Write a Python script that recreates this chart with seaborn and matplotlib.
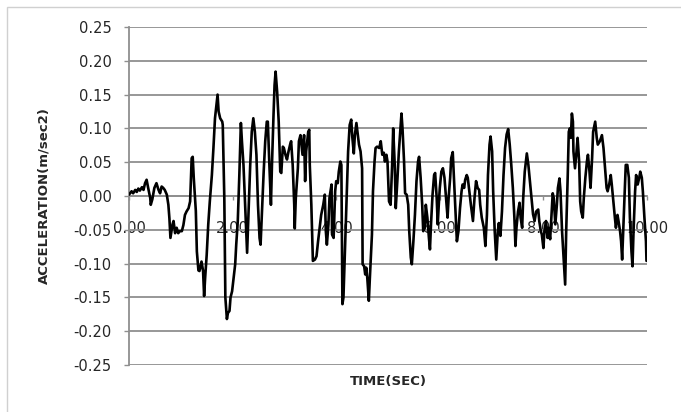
import numpy as np
import seaborn as sns
import matplotlib.pyplot as plt
from matplotlib.patches import Rectangle
from matplotlib.ticker import FormatStrFormatter

sns.set_style("white")
plt.rcParams['font.family'] = ['DejaVu Sans']
plt.rcParams['axes.unicode_minus'] = False

# values
time_sec = [
    0.00, 0.05, 0.08, 0.12, 0.15, 0.18, 0.21, 0.25, 0.28, 0.31, 0.34, 0.37, 0.41, 0.42, 0.45, 0.49,
    0.53, 0.57, 0.60, 0.63, 0.66, 0.69, 0.73, 0.76, 0.78, 0.80, 0.84, 0.86, 0.89, 0.92, 0.95, 0.98,
    1.02, 1.05, 1.08, 1.11, 1.15, 1.18, 1.21, 1.23, 1.25, 1.29, 1.31, 1.34, 1.36, 1.40, 1.43, 1.45,
    1.47, 1.50, 1.53, 1.56, 1.60, 1.63, 1.66, 1.71, 1.73, 1.76, 1.80, 1.81, 1.84, 1.86, 1.89, 1.91,
    1.94, 1.96, 1.99, 2.02, 2.05, 2.07, 2.10, 2.13, 2.16, 2.18, 2.21, 2.25, 2.28, 2.31, 2.34, 2.37,
    2.40, 2.43, 2.46, 2.49, 2.52, 2.54, 2.57, 2.60, 2.63, 2.66, 2.68, 2.71, 2.74, 2.76, 2.79, 2.81,
    2.83, 2.86, 2.89, 2.92, 2.94, 2.97, 2.99, 3.02, 3.05, 3.08, 3.11, 3.13, 3.16, 3.19, 3.20, 3.22,
    3.26, 3.28, 3.31, 3.35, 3.38, 3.40, 3.42, 3.46, 3.48, 3.49, 3.52, 3.55, 3.59, 3.62, 3.65, 3.68,
    3.71, 3.75, 3.78, 3.80, 3.82, 3.85, 3.87, 3.91, 3.92, 3.95, 3.98, 4.00, 4.03, 4.05, 4.08, 4.10,
    4.12, 4.14, 4.16, 4.20, 4.23, 4.26, 4.29, 4.31, 4.34, 4.36, 4.39, 4.42, 4.44, 4.47, 4.50, 4.51,
    4.54, 4.56, 4.58, 4.60, 4.63, 4.65, 4.69, 4.71, 4.74, 4.76, 4.79, 4.83, 4.86, 4.89, 4.92, 4.94,
    4.97, 4.99, 5.02, 5.05, 5.08, 5.10, 5.13, 5.15, 5.18, 5.21, 5.24, 5.26, 5.28, 5.31, 5.33, 5.36,
    5.39, 5.41, 5.44, 5.46, 5.49, 5.52, 5.55, 5.58, 5.60, 5.63, 5.66, 5.68, 5.71, 5.73, 5.76, 5.79,
    5.81, 5.83, 5.86, 5.89, 5.91, 5.94, 5.96, 5.98, 6.00, 6.03, 6.06, 6.09, 6.12, 6.15, 6.17, 6.20,
    6.22, 6.25, 6.27, 6.30, 6.33, 6.36, 6.39, 6.42, 6.44, 6.47, 6.49, 6.52, 6.54, 6.57, 6.60, 6.64,
    6.67, 6.70, 6.73, 6.76, 6.78, 6.81, 6.85, 6.88, 6.91, 6.93, 6.96, 6.98, 7.01, 7.03, 7.06, 7.09,
    7.12, 7.14, 7.17, 7.20, 7.23, 7.26, 7.29, 7.32, 7.35, 7.38, 7.41, 7.44, 7.46, 7.48, 7.51, 7.54,
    7.56, 7.59, 7.61, 7.64, 7.68, 7.71, 7.74, 7.77, 7.80, 7.83, 7.86, 7.90, 7.92, 7.95, 7.97, 8.00,
    8.02, 8.05, 8.08, 8.10, 8.13, 8.15, 8.18, 8.20, 8.23, 8.26, 8.28, 8.31, 8.33, 8.36, 8.39, 8.42,
    8.44, 8.47, 8.49, 8.51, 8.53, 8.55, 8.57, 8.58, 8.61, 8.64, 8.66, 8.69, 8.71, 8.73, 8.76, 8.78,
    8.81, 8.84, 8.86, 8.89, 8.91, 8.94, 8.96, 9.00, 9.03, 9.05, 9.09, 9.13, 9.16, 9.19, 9.22, 9.24,
    9.27, 9.30, 9.32, 9.35, 9.38, 9.40, 9.43, 9.45, 9.48, 9.50, 9.52, 9.54, 9.57, 9.59, 9.62, 9.65,
    9.67, 9.70, 9.72, 9.74, 9.77, 9.79, 9.82, 9.85, 9.87, 9.90, 9.92, 9.95, 9.98, 9.99,
]
accel = [
    0.002, 0.007, 0.004, 0.009, 0.006, 0.011, 0.008, 0.013, 0.009, 0.019, 0.024, 0.012, -0.003, -0.013, -0.005, 0.012,
    0.019, 0.009, 0.004, 0.014, 0.012, 0.009, 0.002, -0.013, -0.033, -0.062, -0.042, -0.037, -0.055, -0.047, -0.055, -0.052,
    -0.052, -0.043, -0.028, -0.023, -0.018, -0.008, 0.056, 0.058, 0.027, -0.022, -0.082, -0.110, -0.111, -0.097, -0.111, -0.148,
    -0.121, -0.087, -0.042, -0.008, 0.031, 0.071, 0.115, 0.150, 0.125, 0.115, 0.110, 0.105, -0.003, -0.150, -0.182, -0.173,
    -0.170, -0.150, -0.141, -0.121, -0.101, -0.072, -0.037, 0.031, 0.108, 0.081, 0.046, -0.028, -0.084, -0.018, 0.046, 0.095,
    0.115, 0.095, 0.061, -0.013, -0.062, -0.072, -0.018, 0.036, 0.081, 0.110, 0.110, 0.046, -0.013, 0.046, 0.120, 0.164,
    0.184, 0.154, 0.110, 0.036, 0.034, 0.073, 0.071, 0.061, 0.054, 0.066, 0.076, 0.081, 0.046, -0.013, -0.048, -0.003,
    0.041, 0.081, 0.090, 0.061, 0.090, 0.022, 0.066, 0.095, 0.098, 0.046, -0.013, -0.096, -0.094, -0.089, -0.067, -0.047,
    -0.028, -0.013, 0.002, -0.052, -0.072, -0.042, -0.003, 0.017, -0.057, -0.062, 0.007, 0.022, 0.019, 0.036, 0.051, 0.046,
    -0.160, -0.150, -0.101, -0.003, 0.066, 0.105, 0.113, 0.088, 0.063, 0.090, 0.108, 0.088, 0.076, 0.066, 0.041, -0.101,
    -0.104, -0.116, -0.106, -0.121, -0.155, -0.121, -0.057, 0.007, 0.051, 0.071, 0.073, 0.071, 0.081, 0.061, 0.064, 0.051,
    0.061, 0.051, -0.008, -0.013, 0.046, 0.100, 0.046, -0.018, 0.022, 0.066, 0.100, 0.122, 0.100, 0.051, 0.004, 0.002,
    -0.013, -0.052, -0.091, -0.101, -0.067, -0.028, 0.022, 0.051, 0.058, 0.027, -0.013, -0.052, -0.047, -0.013, -0.032, -0.062,
    -0.079, -0.042, 0.002, 0.031, 0.034, -0.003, -0.042, -0.013, 0.012, 0.036, 0.041, 0.027, -0.003, -0.032, -0.003, 0.027,
    0.056, 0.065, 0.031, -0.018, -0.067, -0.052, -0.018, 0.007, 0.017, 0.012, 0.024, 0.031, 0.027, 0.007, -0.013, -0.037,
    -0.003, 0.022, 0.012, 0.009, -0.013, -0.032, -0.047, -0.074, -0.028, 0.031, 0.076, 0.088, 0.066, 0.007, -0.052, -0.094,
    -0.052, -0.040, -0.059, -0.023, 0.031, 0.071, 0.091, 0.099, 0.076, 0.046, 0.012, -0.032, -0.074, -0.047, -0.023, -0.010,
    -0.032, -0.047, -0.003, 0.036, 0.063, 0.046, 0.022, -0.003, -0.027, -0.037, -0.023, -0.020, -0.037, -0.052, -0.057, -0.077,
    -0.052, -0.037, -0.062, -0.047, -0.064, -0.037, 0.004, -0.003, -0.042, -0.013, 0.012, 0.026, 0.007, -0.052, -0.091, -0.131,
    -0.052, 0.031, 0.095, 0.100, 0.086, 0.122, 0.110, 0.066, 0.041, 0.066, 0.086, 0.051, -0.008, -0.023, -0.032, -0.003,
    0.027, 0.051, 0.061, 0.036, 0.012, 0.056, 0.095, 0.110, 0.086, 0.076, 0.081, 0.090, 0.071, 0.041, 0.012, 0.007,
    0.017, 0.031, 0.017, -0.008, -0.032, -0.047, -0.028, -0.037, -0.052, -0.067, -0.094, -0.052, 0.007, 0.046, 0.046, 0.027,
    -0.032, -0.082, -0.104, -0.052, 0.007, 0.031, 0.017, 0.027, 0.036, 0.027, 0.007, -0.032, -0.067, -0.096,
]

x_ticks = [0, 2, 4, 6, 8, 10]
y_ticks = [-0.25, -0.20, -0.15, -0.10, -0.05, 0.00, 0.05, 0.10, 0.15, 0.20, 0.25]

grid_col = '#8f8f8f'

fig = plt.figure(figsize=(6.81, 4.12), dpi=100)
ax = fig.add_axes([129 / 681, 1 - 365 / 412, 518 / 681, 338 / 412])

# light frame round the chart area (Excel style)
fig.patches.append(Rectangle((7 / 681, -0.1), 1.2, 1 - 7 / 412 + 0.1,
                             transform=fig.transFigure, fill=False,
                             edgecolor='#d0d0d0', linewidth=1))

sns.lineplot(x=time_sec, y=accel, ax=ax, color='black', linewidth=1.9,
             sort=False, estimator=None, zorder=3)

ax.set_xlim(0, 10)
ax.set_ylim(-0.25, 0.25)
ax.set_xticks(x_ticks)
ax.set_yticks(y_ticks)
ax.xaxis.set_major_formatter(FormatStrFormatter('%.2f'))
ax.yaxis.set_major_formatter(FormatStrFormatter('%.2f'))

ax.grid(axis='y', color=grid_col, linewidth=1.3)
ax.grid(axis='x', visible=False)

for side in ['top', 'right']:
    ax.spines[side].set_visible(False)
ax.spines['left'].set_color(grid_col)
ax.spines['left'].set_linewidth(1.3)
ax.spines['bottom'].set_position(('data', 0))
ax.spines['bottom'].set_color(grid_col)
ax.spines['bottom'].set_linewidth(1.3)

ax.tick_params(axis='y', direction='out', length=3.6, width=1.0, color=grid_col,
               labelsize=10.5, pad=9, left=True)
ax.tick_params(axis='x', direction='out', length=3, width=1.0, color=grid_col,
               labelsize=10.5, pad=15, bottom=True)

ax.set_xlabel('TIME(SEC)', fontsize=9.5, fontweight='bold')
ax.set_ylabel('ACCELERATION(m/sec2)', fontsize=9.5, fontweight='bold')
ax.xaxis.set_label_coords(0.5, -0.03)
ax.yaxis.set_label_coords(-0.151, 0.5)

fig.savefig('out.png', dpi=100)
